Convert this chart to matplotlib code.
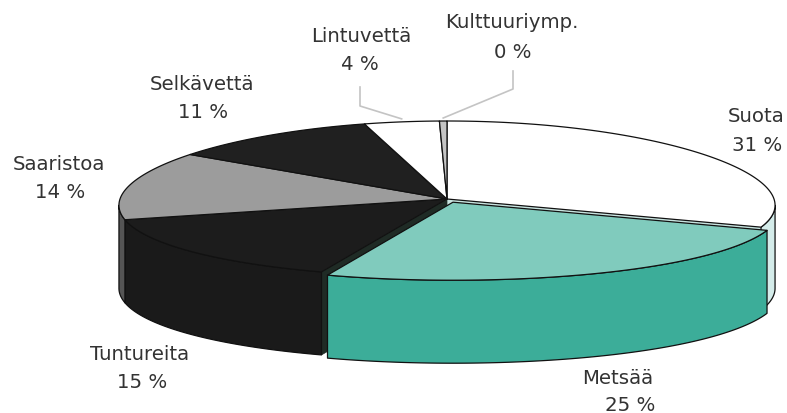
import numpy as np
import matplotlib.pyplot as plt
from matplotlib.patches import Polygon

# ---------------- data ----------------
labels = ["Suota", "Metsää", "Tuntureita", "Saaristoa", "Selkävettä", "Lintuvettä", "Kulttuuriymp."]
values = [31, 25, 15, 14, 11, 4, 0.4]
pct_labels = ["31 %", "25 %", "15 %", "14 %", "11 %", "4 %", "0 %"]

# ---------------- style ----------------
top_colors = ["#ffffff", "#80cbbd", "#1c1c1c", "#9c9c9c", "#202020", "#ffffff", "#c4c4c4"]
side_colors = ["#d4ecea", "#3cad99", "#1a1a1a", "#555555", "#1a1a1a", "#eeeeee", "#9a9a9a"]
radial_colors = ["#c8e4e0", "#2f8f7f", "#1f2b25", "#3a3a3a", "#222222", "#dddddd", "#8a8a8a"]
explode = [0, 0.045, 0, 0, 0, 0, 0]

W, H = 787, 414
cx, cy, rx, ry, depth = 447, 200, 327, 78, 83
persp = 0.08          # mild perspective: back half narrower, front half wider
start = 90.0

fig = plt.figure(figsize=(W / 100, H / 100), dpi=100)
ax = fig.add_axes([0, 0, 1, 1])
ax.set_xlim(0, W)
ax.set_ylim(H, 0)
ax.axis("off")

vals = np.array(values, dtype=float)
cum = np.concatenate([[0], np.cumsum(vals)]) / vals.sum() * 360.0
a0s = start - cum[:-1]   # slice start (larger angle)
a1s = start - cum[1:]    # slice end (smaller angle), clockwise

def offset(i):
    mid = np.radians((a0s[i] + a1s[i]) / 2)
    e = explode[i]
    return e * rx * np.cos(mid), -e * ry * np.sin(mid)

def pt(theta_deg, i, dz=0.0):
    t = np.radians(theta_deg)
    ox, oy = offset(i)
    s = 1.0 / (1.0 + persp * np.sin(t))
    return cx + rx * np.cos(t) * s + ox, cy - ry * np.sin(t) + oy + dz

def center(i, dz=0.0):
    ox, oy = offset(i)
    return cx + ox, cy + oy + dz

LW = 0.9
EC = "#111111"

def top_face(i):
    th = np.linspace(a1s[i], a0s[i], 200)
    pts = [center(i)] + [pt(t, i) for t in th]
    return Polygon(pts, closed=True, facecolor=top_colors[i], edgecolor=EC, lw=LW, joinstyle="round")

def side_faces(i):
    polys = []
    th = np.linspace(a1s[i], a0s[i], 600)
    vis = np.sin(np.radians(th)) < -persp
    seg = []
    for t, v in zip(th, vis):
        if v:
            seg.append(t)
        elif seg:
            polys.append(seg); seg = []
    if seg:
        polys.append(seg)
    out = []
    for s in polys:
        if len(s) < 2:
            continue
        upper = [pt(t, i) for t in s]
        lower = [pt(t, i, depth) for t in s[::-1]]
        out.append(Polygon(upper + lower, closed=True, facecolor=side_colors[i],
                           edgecolor=EC, lw=LW, joinstyle="round"))
    return out

def radial_face(i, theta):
    c0 = center(i); c1 = center(i, depth)
    p0 = pt(theta, i); p1 = pt(theta, i, depth)
    return Polygon([c0, p0, p1, c1], closed=True, facecolor=radial_colors[i],
                   edgecolor=radial_colors[i], lw=0.5)

n = len(vals)
# radial faces next to exploded slices (visible only through the gap)
for i in range(n):
    for theta, nb in ((a0s[i], (i - 1) % n), (a1s[i], (i + 1) % n)):
        if explode[nb] > 0 and explode[i] == 0:
            ax.add_patch(radial_face(i, theta))

order_normal = [i for i in range(n) if explode[i] == 0]
order_expl = [i for i in range(n) if explode[i] > 0]
for i in order_normal:
    for p in side_faces(i):
        ax.add_patch(p)
for i in order_normal:
    ax.add_patch(top_face(i))
for i in order_expl:
    for p in side_faces(i):
        ax.add_patch(p)
    ax.add_patch(top_face(i))

# ---------------- labels ----------------
label_pos = [(756, 117), (618, 379), (140, 355), (59, 165), (202, 85), (361, 37), (512, 23)]
pct_pos = [(757, 146), (630, 406), (142, 383), (60, 193), (203, 113), (360, 64), (513, 52)]
txt_kw = dict(ha="center", va="center", color="#333333", fontsize=14.2, family="DejaVu Sans")
for i in range(n):
    ax.text(*label_pos[i], labels[i], **txt_kw)
    ax.text(*pct_pos[i], pct_labels[i], **txt_kw)

# leader lines for the two thin slices at the top
leader = {5: (360, 88, 107), 6: (513, 72, 90)}
for i, (lx, ly0, ly1) in leader.items():
    mid = (a0s[i] + a1s[i]) / 2
    ex, ey = pt(mid, i)
    ax.plot([lx, lx, ex], [ly0, ly1, ey - 3], color="#c4c4c4", lw=1.2, zorder=0.5)

fig.savefig("out.png", dpi=100, facecolor="white")
